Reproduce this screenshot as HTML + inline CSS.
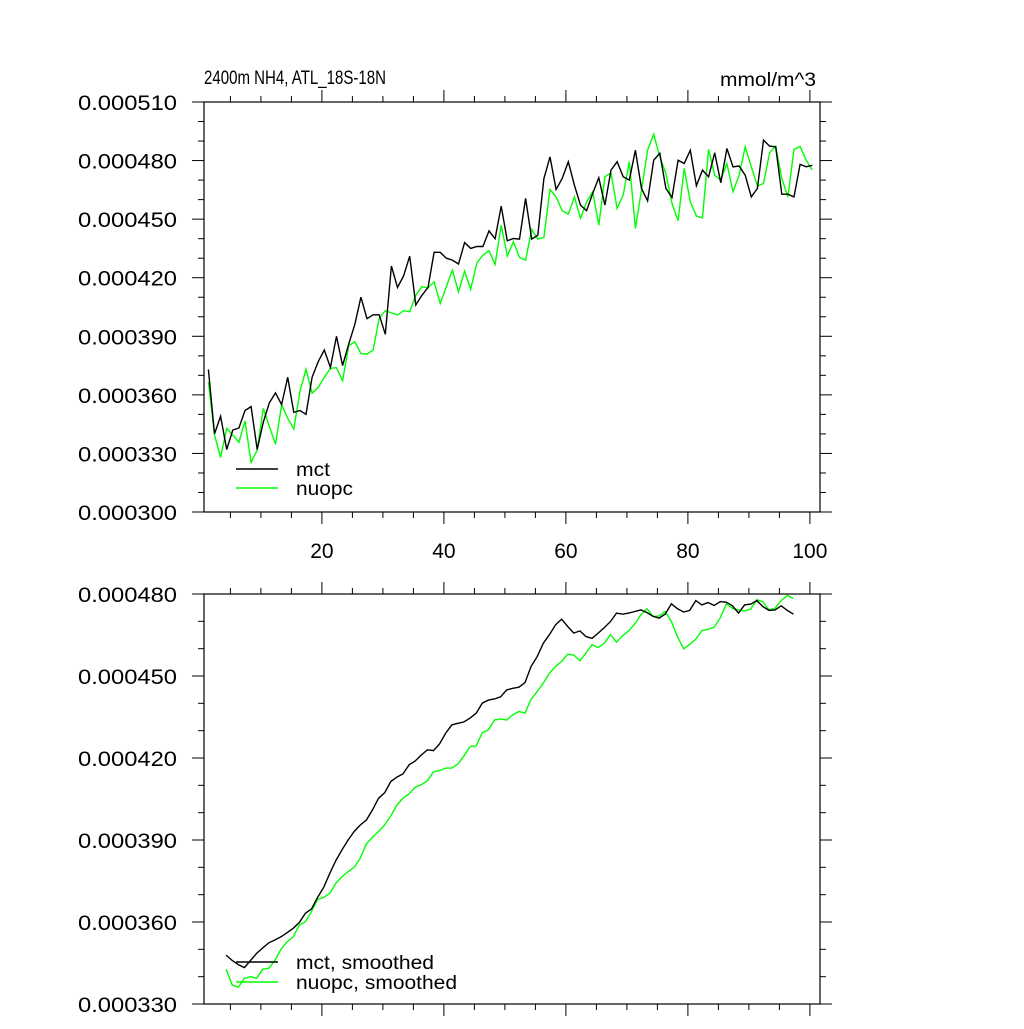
<!DOCTYPE html>
<html><head><meta charset="utf-8"><style>
body{margin:0;background:#fff}
svg text{font-family:"Liberation Sans",sans-serif;fill:#000}
</style></head><body>
<svg id="chart" width="1024" height="1024" xmlns="http://www.w3.org/2000/svg"></svg>
<script>
// Top panel data (values in 1e-6 mmol/m^3)
const topMct = [373,340,349,332,342,343,352,354,332,346,356,361,355,369,351,352,350,369,377,383,374,390,375,386,396,410,399,401,401,391,426,415,421,431,406,411,415,433,433,430,429,427,438,435,436,436,444,440,
456.7,438.9,440.1,439.8,460.6,439.8,441.8,470.8,481.9,465.2,470.8,479.4,467.4,457.2,454.3,463.2,471.2,457.2,475.1,479.4,471.7,470,485.3,465.7,459.4,480.2,483.7,465.7,461.1,480.2,478.5,485.3,467.1,475.1,471.7,484,468.6,486.2,476.8,477.2,472.5,461.4,465.7,490.5,487.4,487,462.8,462.8,461.4,478.1,476.8,477.6];
const topNuopc = [366.7,339.4,328,342.8,339.4,335.7,346.7,325.4,331.7,353.1,343.7,334.8,354.8,348,342.5,361.6,373.1,360.8,363.8,369,373.6,373.9,367.2,385.2,387.2,381.2,380.9,382.9,399.2,403.1,402,400.9,403.1,402.6,411.1,415.4,414.8,417.9,406.8,415.4,423.9,412.8,423.4,414,427.6,431.6,433.8,426.8,
446.9,431.1,438.4,430.4,429,444.7,439.8,440.6,465.2,461.4,454.3,452.6,461.4,450.4,458.9,464,446.9,471.7,473.7,455.5,462.3,479.4,445.2,464.9,485.3,493.5,481.9,473.4,458,449.2,476,458.9,451.6,450.7,485.7,472.5,470,478.5,464.1,472.5,487,476.8,466.9,468.3,484,487.4,470.8,461.4,485.7,487.2,480.2,475.1];
// Bottom panel data (smoothed)
const botMct = [347.9,345.9,344.4,343.3,345.9,348.5,350.5,352.4,353.4,354.6,356.1,357.7,359.8,363.2,364.8,369,372.7,377.8,382.5,386.4,390,393.1,395.5,397.3,401,405.3,407.3,411.4,413,414.2,417.5,418.9,421.1,423,422.7,425.2,429.1,432.1,432.7,433.2,434.6,436.4,440.1,441.2,441.6,442.4,444.9,445.5,
445.9,447.6,453.5,457.1,462,465.1,468.7,470.8,468.1,465.7,466.5,464.4,463.8,465.7,467.7,469.9,473,472.6,473,473.6,474.2,473.2,471.8,471.2,472.7,476.4,474.6,473.4,474,477.6,476,476.9,475.8,477.2,477,475.7,473,476,476.3,477.6,475.4,474,474.2,475.7,474,472.6];
const botNuopc = [342.7,337,336.1,339.4,340,339.4,342.7,343.1,345.9,350,352.8,354.6,358.9,360.1,363.8,368.3,369,370.5,374.2,376.6,378.4,380,383.3,388.6,391,393.1,395.5,398.8,402.8,405.3,406.9,409.3,410.2,411.7,415,415.4,416.3,416.3,417.8,420.8,424.2,424.4,429.3,430.3,433.9,434.3,433.9,435.8,437,
436.4,441.5,444.3,447.4,451,453.5,455.3,458,457.7,455.6,458.4,461.4,460.4,462,465.1,462.4,464.7,466.5,469.1,472.4,474.6,471.8,472,473.6,469.9,464.4,459.9,461.6,463.5,466.6,467.1,467.9,471.2,476.4,474.8,474.2,473.8,474.5,477.9,477.2,474.2,474.8,477.6,479.5,478.3];
const xTickLabels = [20,40,60,80,100];
const topYTicks = [300,330,360,390,420,450,480,510];
const botYTicks = [330,360,390,420,450,480];

const NS="http://www.w3.org/2000/svg";
const svg=document.getElementById('chart');
function mk(tag,attrs,parent){const e=document.createElementNS(NS,tag);for(const k in attrs)e.setAttribute(k,attrs[k]);(parent||svg).appendChild(e);return e;}
const L=204,R=820;
function xs(v){return 206+(v-1)*6.1;}
function panel(top,bot,ymin,ymax,yticks,showX,name){
  const ys=v=>bot-(v-ymin)/(ymax-ymin)*(bot-top);
  const g=mk('g',{});
  
  
  const fr=mk('rect',{x:L,y:top,width:R-L,height:bot-top,fill:'none',stroke:'#000','stroke-width':1.2},g);
  
  
  for(let v=ymin;v<=ymax+0.01;v+=10){
    const major=yticks.includes(Math.round(v));const len=major?12:6;const y=ys(v);
    mk('line',{x1:L,x2:L-len,y1:y,y2:y,stroke:'#000'},g);
    mk('line',{x1:R,x2:R+len,y1:y,y2:y,stroke:'#000'},g);
  }
  yticks.forEach(v=>{const t=mk('text',{x:78,y:ys(v)+8,'font-size':21,textLength:99,lengthAdjust:'spacingAndGlyphs'},g);t.textContent=(v/1e6).toFixed(6);
    
    });
  for(let v=5;v<=100;v+=5){const major=v%20===0;const len=major?12:6;const x=xs(v);
    mk('line',{x1:x,x2:x,y1:bot,y2:bot+len,stroke:'#000'},g);
    mk('line',{x1:x,x2:x,y1:top,y2:top-len,stroke:'#000'},g);}
  if(showX) xTickLabels.forEach(v=>{const t=mk('text',{x:xs(v),y:bot+46,'text-anchor':'middle','font-size':21},g);t.textContent=v;
    
    });
  return ys;
}
function series(arr,x0,ys,color,name){
  const pts=arr.map((v,i)=>xs(x0+i).toFixed(1)+','+ys(v).toFixed(1)).join(' ');
  const p=mk('polyline',{points:pts,fill:'none',stroke:color,'stroke-width':1.4});
  
  
}
const ys1=panel(102,512,300,510,topYTicks,true,'top-panel');
series(topNuopc,1.4,ys1,'#00ff00','nuopc-line');
series(topMct,1.4,ys1,'#000','mct-line');
const ys2=panel(594,1004,330,480,botYTicks,false,'bottom-panel');
series(botNuopc,4.3,ys2,'#00ff00','nuopc-smoothed-line');
series(botMct,4.3,ys2,'#000','mct-smoothed-line');

function legend(y,label,color,name,w){
  const l=mk('line',{x1:236,x2:278,y1:y,y2:y,stroke:color,'stroke-width':1.4});
  
  
  const t=mk('text',{x:296,y:y+7,'font-size':19,textLength:w,lengthAdjust:'spacingAndGlyphs'});t.textContent=label;
  
  
}
legend(469,'mct','#000','legend-mct',34);
legend(488,'nuopc','#00ff00','legend-nuopc',57);
legend(962,'mct, smoothed','#000','legend-mct-smoothed',138);
legend(982,'nuopc, smoothed','#00ff00','legend-nuopc-smoothed',161);
const t1=mk('text',{x:204,y:84,'font-size':19,textLength:182,lengthAdjust:'spacingAndGlyphs'});t1.textContent='2400m NH4, ATL_18S-18N';


const t2=mk('text',{x:720,y:86,'font-size':19,textLength:96,lengthAdjust:'spacingAndGlyphs'});t2.textContent='mmol/m^3';


</script>
</body></html>
